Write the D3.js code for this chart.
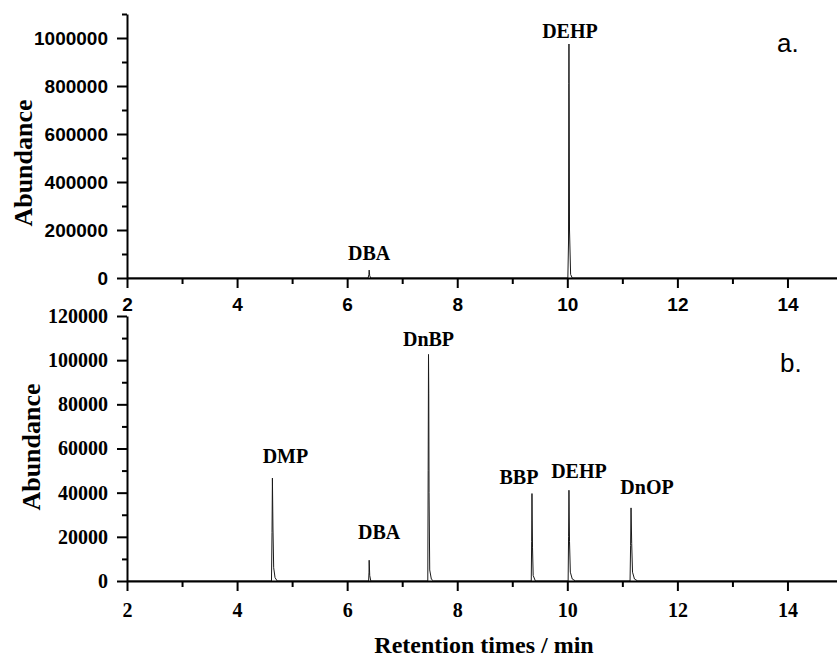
<!DOCTYPE html>
<html>
<head>
<meta charset="utf-8">
<script src="https://cdn.jsdelivr.net/npm/d3@7"></script>
<style>
  body { margin: 0; background: #fff; }
  .serif { font-family: "Liberation Serif", "Times New Roman", serif; font-weight: bold; }
  .sans { font-family: "Liberation Sans", Arial, sans-serif; }
</style>
</head>
<body>
<div id="chart"></div>
<script>
// tick values
const xTicks = [2, 4, 6, 8, 10, 12, 14];
const xMinor = [3, 5, 7, 9, 11, 13, 15];
const yTicksA = [0, 200000, 400000, 600000, 800000, 1000000];
const yMinorA = [100000, 300000, 500000, 700000, 900000, 1100000];
const yTicksB = [0, 20000, 40000, 60000, 80000, 100000, 120000];
const yMinorB = [10000, 30000, 50000, 70000, 90000, 110000];

// chromatogram a. : [retention time, abundance]
const traceA = [
  [2.0, 0], [6.38, 0], [6.395, 14000], [6.40, 33000], [6.41, 9000], [6.43, 0],
  [10.01, 0], [10.022, 150000], [10.027, 810000], [10.03, 975000], [10.035, 700000],
  [10.04, 200000], [10.06, 15000], [10.09, 0], [15.0, 0]
];

// chromatogram b.
const traceB = [
  [2.0, 0],
  [4.625, 0], [4.635, 22000], [4.642, 46600], [4.652, 24000], [4.665, 6000], [4.69, 1500], [4.73, 0],
  [6.39, 0], [6.397, 4000], [6.40, 9400], [6.41, 2500], [6.43, 0],
  [7.465, 0], [7.472, 50000], [7.478, 102600], [7.483, 85000], [7.488, 40000], [7.50, 5000], [7.53, 800], [7.57, 0],
  [9.345, 0], [9.352, 18000], [9.358, 39600], [9.368, 15000], [9.38, 2500], [9.42, 0],
  [10.015, 0], [10.023, 20000], [10.03, 41100], [10.04, 18000], [10.055, 4000], [10.09, 900], [10.15, 0],
  [11.14, 0], [11.15, 16000], [11.158, 33100], [11.17, 17000], [11.185, 4000], [11.22, 900], [11.28, 0],
  [15.0, 0]
];

// peak names and retention times
const peaksA = [{ name: "DBA", t: 6.40 }, { name: "DEHP", t: 10.03 }];
const peaksB = [
  { name: "DMP", t: 4.642 }, { name: "DBA", t: 6.40 }, { name: "DnBP", t: 7.478 },
  { name: "BBP", t: 9.358 }, { name: "DEHP", t: 10.03 }, { name: "DnOP", t: 11.158 }
];

const W = 837, H = 659;
const svg = d3.select("#chart").append("svg")
  .attr("width", W).attr("height", H)
  .style("background", "#fff");

const x = d3.scaleLinear().domain([2, 15]).range([127, 842.5]);

function panel(opts) {
  const y = d3.scaleLinear().domain(opts.yDomain).range(opts.yRange);
  const g = svg.append("g");
  const y0 = opts.yRange[0];

  // line
  const line = d3.line().x((d) => x(d[0])).y((d) => y(d[1]));
  g.append("path")
    .datum(opts.trace)
    .attr("fill", "none")
    .attr("stroke", "#1a1a1a")
    .attr("stroke-width", 1)
    .attr("d", line);

  // x axis minor
  g.append("g")
    .attr("transform", `translate(0,${y0})`)
    .call(d3.axisBottom(x).tickValues(xMinor).tickSize(6).tickFormat(""))
    .call((a) => a.select(".domain").remove())
    .selectAll("line").attr("stroke-width", 2);

  // x axis major
  const xa = g.append("g")
    .attr("transform", `translate(0,${y0})`)
    .call(d3.axisBottom(x).tickValues(xTicks).tickSize(10).tickSizeOuter(0).tickPadding(opts.xPad));
  xa.select(".domain").attr("stroke-width", 2);
  xa.selectAll("line").attr("stroke-width", 2);
  xa.selectAll("text")
    .attr("class", opts.xFontClass)
    .attr("font-size", opts.xFontSize)
    .attr("font-weight", "bold")
    .attr("fill", "#000");

  // y axis minor
  g.append("g")
    .attr("transform", `translate(${x(2)},0)`)
    .call(d3.axisLeft(y).tickValues(opts.yMinor).tickSize(5).tickFormat(""))
    .call((a) => a.select(".domain").remove())
    .selectAll("line").attr("stroke-width", 2);

  // y axis major
  const ya = g.append("g")
    .attr("transform", `translate(${x(2)},0)`)
    .call(d3.axisLeft(y).tickValues(opts.yTicks).tickSize(10).tickSizeOuter(0)
      .tickPadding(9).tickFormat(d3.format("d")));
  ya.select(".domain").attr("stroke-width", 2);
  ya.selectAll("line").attr("stroke-width", 2);
  ya.selectAll("text")
    .attr("class", opts.yFontClass)
    .attr("font-size", opts.yFontSize)
    .attr("font-weight", "bold")
    .attr("fill", "#000");

  // y title
  g.append("text")
    .attr("class", "serif")
    .attr("font-size", 26)
    .attr("text-anchor", "middle")
    .attr("transform", `translate(${opts.titleX},${opts.titleY}) rotate(-90)`)
    .text("Abundance");

  // peak labels
  g.selectAll(".peak")
    .data(opts.peaks)
    .join("text")
    .attr("class", "serif")
    .attr("font-size", 20)
    .attr("text-anchor", "middle")
    .attr("x", (d) => x(d.t) + opts.offsets[d.name][0])
    .attr("y", (d) => {
      const h = d3.max(opts.trace.filter((p) => Math.abs(p[0] - d.t) < 0.05), (p) => p[1]);
      return y(h) + opts.offsets[d.name][1];
    })
    .text((d) => d.name);

  // panel tag
  g.append("text")
    .attr("class", "sans")
    .attr("font-size", 26)
    .attr("x", opts.tag[0])
    .attr("y", opts.tag[1])
    .text(opts.tagText);
}

panel({
  trace: traceA,
  yDomain: [0, 1100000], yRange: [278, 14],
  yTicks: yTicksA, yMinor: yMinorA,
  xPad: 10, xFontClass: "sans", xFontSize: 19,
  yFontClass: "sans", yFontSize: 19,
  titleX: 32, titleY: 163,
  peaks: peaksA,
  offsets: { DBA: [0, -10], DEHP: [1, -6] },
  tag: [777, 52], tagText: "a."
});

panel({
  trace: traceB,
  yDomain: [0, 120000], yRange: [581, 316],
  yTicks: yTicksB, yMinor: yMinorB,
  xPad: 12, xFontClass: "serif", xFontSize: 20,
  yFontClass: "serif", yFontSize: 20,
  titleX: 40, titleY: 447,
  peaks: peaksB,
  offsets: { DMP: [13, -15], DBA: [10, -21], DnBP: [0, -8], BBP: [-13, -10], DEHP: [10, -12], DnOP: [16, -14] },
  tag: [780, 372], tagText: "b."
});

svg.append("text")
  .attr("class", "serif")
  .attr("font-size", 24)
  .attr("text-anchor", "middle")
  .attr("x", 484)
  .attr("y", 653)
  .text("Retention times / min");
</script>
</body>
</html>
